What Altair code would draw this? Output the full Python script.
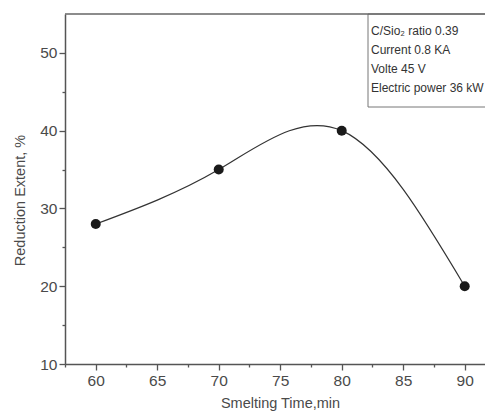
import altair as alt
import pandas as pd

time_min = [60, 70, 80, 90]
reduction = [28, 35, 40, 20]
x_major = [60, 65, 70, 75, 80, 85, 90]
x_minor = [57.5, 62.5, 67.5, 72.5, 77.5, 82.5, 87.5]
y_major = [10, 20, 30, 40, 50]
y_minor = [15, 25, 35, 45]
notes = ["C/Sio\u2082 ratio 0.39", "Current 0.8 KA", "Volte 45 V", "Electric power 36 kW"]

df = pd.DataFrame({"t": time_min, "r": reduction})
FONT = "Liberation Sans"
AX = "#555555"

xs = alt.Scale(domain=[57.5, 91.65], nice=False, zero=False)
ys = alt.Scale(domain=[10, 55], nice=False, zero=False)

common_axis = dict(domainColor=AX, domainWidth=1.5, tickColor=AX, tickWidth=1.3,
                   labelFont=FONT, labelColor="#4a4a4a", labelFontSize=15.5,
                   titleFont=FONT, titleColor="#4a4a4a", titleFontSize=14.5,
                   titleFontWeight="normal", grid=False)

line = alt.Chart(df).mark_line(interpolate="natural", color="#333333", strokeWidth=1.2).encode(
    x=alt.X("t:Q", scale=xs, axis=alt.Axis(orient="bottom", values=x_major, tickSize=6,
                                            title="Smelting Time,min", titleX=215, titleY=43,
                                            titleBaseline="alphabetic", titleAlign="center",
                                            labelPadding=3, **common_axis)),
    y=alt.Y("r:Q", scale=ys, axis=alt.Axis(orient="left", values=y_major, tickSize=6,
                                            title="Reduction Extent, %", titleX=-45, titleY=186,
                                            titleBaseline="middle", titleAlign="center",
                                            labelPadding=2, **common_axis)),
)

pts = alt.Chart(df).mark_circle(size=100, color="#1a1a1a", opacity=1).encode(
    x=alt.X("t:Q", scale=xs, axis=alt.Axis(orient="bottom", values=x_minor, tickSize=3,
                                            labels=False, domain=False, title=None,
                                            tickColor=AX, tickWidth=1.3, grid=False)),
    y=alt.Y("r:Q", scale=ys, axis=alt.Axis(orient="left", values=y_minor, tickSize=3,
                                            labels=False, domain=False, title=None,
                                            tickColor=AX, tickWidth=1.3, grid=False)),
)

one = pd.DataFrame({"a": [0]})
top = alt.Chart(one).mark_rule(color="#666666", strokeWidth=1.5).encode(
    x=alt.value(0), x2=alt.value(430), y=alt.value(0)
)

box = alt.Chart(one).mark_rect(
    fill="white", stroke="#777777", strokeWidth=1
).encode(x=alt.value(303), x2=alt.value(440), y=alt.value(0), y2=alt.value(93))

ndf = pd.DataFrame({"txt": notes, "i": list(range(len(notes)))})
txt = alt.Chart(ndf).mark_text(
    align="left", baseline="middle", font=FONT, fontSize=12, color="#333333"
).encode(
    text="txt:N",
    x=alt.value(306),
    y=alt.Y("i:O", scale=alt.Scale(domain=[0, 1, 2, 3], range=[17, 74], padding=0), axis=None),
)

chart = alt.layer(line, pts, box, top, txt).resolve_axis(x="independent", y="independent").resolve_scale(
    y="independent"
).properties(
    width=420, height=350,
    autosize=alt.AutoSizeParams(type="none"),
    padding={"left": 57, "top": 6, "right": 0, "bottom": 47},
    background="white",
).configure_view(stroke=None)

chart.save("out.html", embed_options={"renderer": "svg", "actions": False})
